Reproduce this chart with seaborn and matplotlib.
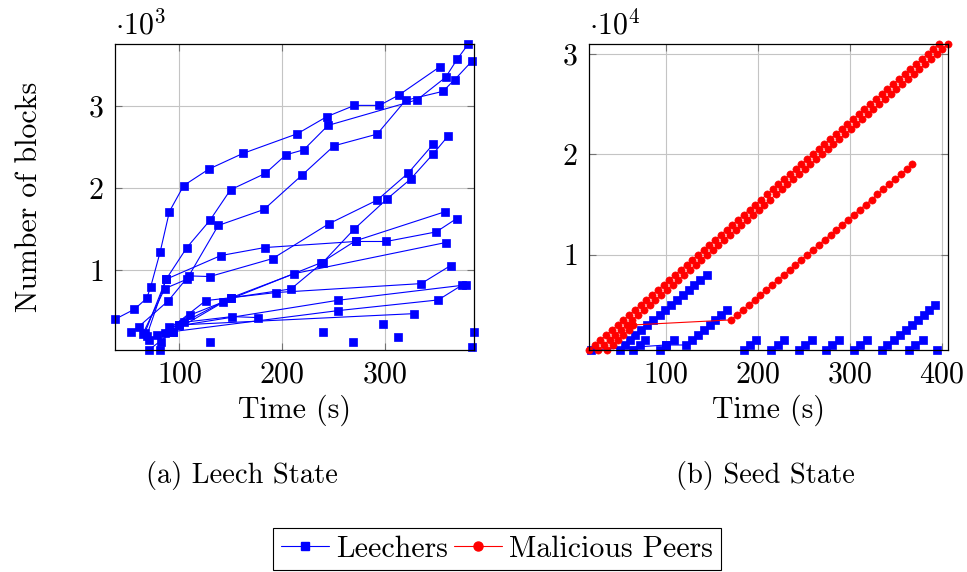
import pandas as pd
import matplotlib
matplotlib.use('Agg')
import matplotlib.pyplot as plt
from matplotlib.lines import Line2D
import seaborn as sns

# ---- (a) leech state: one list pair per leecher (time in s, blocks) ----
leech_1_time = [37.1, 56.0, 68.1, 72.0, 81.1, 90.2, 104.2, 128.7, 161.9, 215.0, 243.6, 270.7, 295.1, 314.0, 353.7]
leech_1_blocks = [398, 520, 654, 797, 1215, 1711, 2028, 2228, 2419, 2659, 2866, 3004, 3004, 3130, 3472]
leech_2_time = [68.1, 87.0, 107.2, 129.6, 149.8, 183.7, 203.9, 221.2, 244.9, 331.9, 359.6, 371.0, 381.8]
leech_2_blocks = [199, 886, 1272, 1602, 1976, 2175, 2402, 2463, 2760, 3073, 3346, 3569, 3752]
leech_3_time = [64.2, 85.7, 107.2, 137.8, 182.4, 219.5, 250.8, 292.8, 320.5, 356.9, 368.4, 385.7]
leech_3_blocks = [220, 772, 886, 1541, 1736, 2154, 2512, 2654, 3065, 3175, 3317, 3549]
leech_4_time = [53.1, 60.3, 89.0, 109.1, 129.6, 190.9, 245.6, 292.8, 323.1, 347.6]
leech_4_blocks = [240, 309, 622, 927, 919, 1138, 1561, 1850, 2179, 2533]
leech_5_time = [70.0, 99.3, 149.8, 208.8, 239.7, 270.7, 302.6, 325.4, 347.6, 362.2]
leech_5_blocks = [146, 329, 659, 768, 1089, 1500, 1866, 2106, 2415, 2634]
leech_6_time = [66.1, 87.0, 140.4, 183.1, 271.7, 301.6, 350.5, 370.4]
leech_6_blocks = [228, 886, 1175, 1272, 1346, 1346, 1463, 1626]
leech_7_time = [77.9, 109.8, 142.7, 238.4, 271.7, 358.6]
leech_7_blocks = [207, 447, 610, 1089, 1354, 1707]
leech_8_time = [85.7, 125.7, 194.1, 335.8, 364.5]
leech_8_blocks = [236, 626, 724, 833, 1053]
leech_9_time = [70.0, 93.5, 149.8, 212.1, 359.6]
leech_9_blocks = [24, 248, 659, 955, 1333]
leech_10_time = [90.2, 254.7, 379.2]
leech_10_blocks = [301, 630, 817]
leech_11_time = [93.5, 254.7, 352.4, 375.9]
leech_11_blocks = [248, 504, 634, 817]
leech_12_time = [99.3, 328.7]
leech_12_blocks = [329, 467]
leech_13_time = [104.2, 151.4, 176.5]
leech_13_blocks = [362, 431, 419]
# leechers seen only once
single_time = [129.6, 239.7, 269.7, 298.4, 313.4, 387.3, 385.7, 81.1, 82.4]
single_blocks = [126, 248, 126, 337, 187, 248, 65, 24, 126]

# ---- (b) seed state ----
seed_leech_a_time = [19.3, 100.4, 122.2, 128.4, 135.6, 141.8, 148.4, 153.8, 160.0, 166.5]
seed_leech_a_blocks = [500, 1000, 1000, 1500, 2000, 2500, 3000, 3500, 4000, 4500]
seed_leech_b_time = [50.9, 55.6, 61.1, 66.5, 72.7, 79.3, 86.5, 93.8, 99.3, 105.5, 112.0, 118.5,
                     125.1, 131.3, 137.5, 144.7]
seed_leech_b_blocks = [500, 1000, 1500, 2000, 2500, 3000, 3500, 4000, 4500, 5000, 5500, 6000,
                       6500, 7000, 7500, 8000]
seed_leech_c_time = [334.9, 341.1, 348.4, 354.9, 361.1, 367.6, 374.9, 381.1, 386.5, 392.7]
seed_leech_c_blocks = [500, 1000, 1500, 2000, 2500, 3000, 3500, 4000, 4500, 5000]
# short bursts of three samples
burst_times = [[64.7, 72.0, 77.5], [93.8, 100.4, 109.1], [184.7, 191.3, 198.5],
               [214.5, 221.8, 228.4], [244.7, 251.3, 259.3], [274.9, 281.1, 288.4],
               [304.7, 311.3, 318.5], [364.7, 371.3, 380.4], [394.9]]
burst_blocks = [500, 1000, 1500]

mal_1_time = [16.7, 22.9, 29.2, 35.4, 41.7, 47.9, 54.1, 60.4, 66.6, 72.9,
              79.1, 85.3, 91.6, 97.8, 104.1, 110.3, 116.5, 122.8, 129.0, 135.3,
              141.5, 147.7, 154.0, 160.2, 166.5, 172.7, 178.9, 185.2, 191.4, 197.7,
              203.9, 210.1, 216.4, 222.6, 228.9, 235.1, 241.3, 247.6, 253.8, 260.1,
              266.3, 272.5, 278.8, 285.0, 291.3, 297.5, 303.7, 310.0, 316.2, 322.5,
              328.7, 334.9, 341.2, 347.4, 353.7, 359.9, 366.1, 372.4, 378.6, 384.9,
              391.1, 397.3]
mal_2_time = [26.5, 32.7, 39.0, 45.2, 51.5, 57.7, 63.9, 70.2, 76.4, 82.7,
              88.9, 95.1, 101.4, 107.6, 113.9, 120.1, 126.3, 132.6, 138.8, 145.1,
              151.3, 157.5, 163.8, 170.0, 176.3, 182.5, 188.7, 195.0, 201.2, 207.5,
              213.7, 219.9, 226.2, 232.4, 238.7, 244.9, 251.1, 257.4, 263.6, 269.9,
              276.1, 282.3, 288.6, 294.8, 301.1, 307.3, 313.5, 319.8, 326.0, 332.3,
              338.5, 344.7, 351.0, 357.2, 363.5, 369.7, 375.9, 382.2, 388.4, 394.7,
              400.9, 407.1]
mal_3_time = [36.8, 42.5, 48.3, 54.2, 59.8, 64.7,
              171.3, 177.6, 184.0, 190.4, 196.7, 203.1, 209.4, 215.8, 222.2, 228.5,
              234.9, 241.2, 247.6, 254.0, 260.3, 266.7, 273.0, 279.4, 285.8, 292.1,
              298.5, 304.8, 311.2, 317.6, 323.9, 330.3, 336.6, 343.0, 349.4, 355.7,
              362.1, 368.4]
mal_blocks = [500, 1000, 1500, 2000, 2500, 3000, 3500, 4000, 4500, 5000,
              5500, 6000, 6500, 7000, 7500, 8000, 8500, 9000, 9500, 10000,
              10500, 11000, 11500, 12000, 12500, 13000, 13500, 14000, 14500, 15000,
              15500, 16000, 16500, 17000, 17500, 18000, 18500, 19000, 19500, 20000,
              20500, 21000, 21500, 22000, 22500, 23000, 23500, 24000, 24500, 25000,
              25500, 26000, 26500, 27000, 27500, 28000, 28500, 29000, 29500, 30000,
              30500, 31000]


def to_frame(series):
    rows = []
    for k, (times, blocks) in enumerate(series):
        for t, b in zip(times, blocks):
            rows.append((k, t, b))
    return pd.DataFrame(rows, columns=['peer', 'time', 'blocks'])


leech_df = to_frame([
    (leech_1_time, leech_1_blocks), (leech_2_time, leech_2_blocks), (leech_3_time, leech_3_blocks),
    (leech_4_time, leech_4_blocks), (leech_5_time, leech_5_blocks), (leech_6_time, leech_6_blocks),
    (leech_7_time, leech_7_blocks), (leech_8_time, leech_8_blocks), (leech_9_time, leech_9_blocks),
    (leech_10_time, leech_10_blocks), (leech_11_time, leech_11_blocks),
    (leech_12_time, leech_12_blocks), (leech_13_time, leech_13_blocks),
] + [([t], [b]) for t, b in zip(single_time, single_blocks)])

seed_df = to_frame([
    (seed_leech_a_time, seed_leech_a_blocks), (seed_leech_b_time, seed_leech_b_blocks),
    (seed_leech_c_time, seed_leech_c_blocks),
] + [(bt, burst_blocks[:len(bt)]) for bt in burst_times])

mal_df = to_frame([
    (mal_1_time, mal_blocks), (mal_2_time, mal_blocks), (mal_3_time, mal_blocks[:len(mal_3_time)]),
])

sns.set_theme(style='whitegrid')
plt.rcParams['font.family'] = ['cmr10', 'DejaVu Serif']
plt.rcParams['mathtext.fontset'] = 'cm'
plt.rcParams['axes.formatter.use_mathtext'] = True
plt.rcParams['text.color'] = 'black'
plt.rcParams['axes.labelcolor'] = 'black'

FS = 21.5
BLUE = (0, 0, 1)
RED = (1, 0, 0)

fig = plt.figure(figsize=(9.67, 5.72), dpi=100)
ax1 = fig.add_axes([0.1189, 0.3881, 0.3713, 0.535])
ax2 = fig.add_axes([0.6091, 0.3881, 0.3713, 0.535])

line_kw = dict(units='peer', estimator=None, sort=False, legend=False, linewidth=0.8, clip_on=False)
sns.lineplot(data=leech_df, x='time', y='blocks', color=BLUE, marker='s', markersize=5.4,
             markeredgecolor=BLUE, markeredgewidth=0.5, ax=ax1, **line_kw)
sns.lineplot(data=seed_df, x='time', y='blocks', color=BLUE, marker='s', markersize=5.2,
             markeredgecolor=BLUE, markeredgewidth=0.5, ax=ax2, **line_kw)
sns.lineplot(data=mal_df, x='time', y='blocks', color=RED, marker='o', markersize=5.2,
             markeredgecolor=RED, markeredgewidth=0.4, ax=ax2, **line_kw)

ax1.set_xlim(leech_df['time'].min(), leech_df['time'].max())
ax1.set_ylim(leech_df['blocks'].min(), leech_df['blocks'].max())
ax2.set_xlim(min(seed_df['time'].min(), mal_df['time'].min()), mal_df['time'].max())
ax2.set_ylim(500, 31000)

ax1.set_xticks([100, 200, 300])
ax1.set_yticks([1000, 2000, 3000])
ax1.set_yticklabels(['1', '2', '3'])
ax2.set_xticks([100, 200, 300, 400])
ax2.set_yticks([10000, 20000, 30000])
ax2.set_yticklabels(['1', '2', '3'])

for ax in (ax1, ax2):
    ax.grid(True, color='#c4c4c4', linewidth=0.8)
    ax.set_axisbelow(True)
    for sp in ax.spines.values():
        sp.set_color('black')
        sp.set_linewidth(0.9)
    ax.tick_params(direction='in', length=5, width=0.8, color='0.45', labelcolor='black',
                   bottom=True, left=True, top=True, right=True, labelsize=FS, pad=8)
    ax.set_xlabel('Time (s)', fontsize=FS)
    ax.xaxis.set_label_coords(0.5, -0.145)
    ax.set_ylabel('')

ax1.set_ylabel('Number of blocks', fontsize=FS)
ax1.yaxis.set_label_coords(-0.2, 0.5)

ax1.text(0.0, 1.012, r'$\cdot 10^{3}$', transform=ax1.transAxes, ha='left', va='bottom', fontsize=FS)
ax2.text(0.0, 1.012, r'$\cdot 10^{4}$', transform=ax2.transAxes, ha='left', va='bottom', fontsize=FS)

fig.text(242 / 967, 1 - 476 / 572, '(a) Leech State', ha='center', va='center', fontsize=20.5)
fig.text(765 / 967, 1 - 476 / 572, '(b) Seed State', ha='center', va='center', fontsize=20.5)

handles = [Line2D([], [], color=BLUE, marker='s', markersize=6, markeredgecolor=BLUE, linewidth=0.8),
           Line2D([], [], color=RED, marker='o', markersize=6.5, markeredgecolor=RED, linewidth=0.8)]
leg = fig.legend(handles, ['Leechers', 'Malicious Peers'], loc='center',
                 bbox_to_anchor=(497 / 967, 1 - 549 / 572), ncol=2, frameon=True, fancybox=False,
                 edgecolor='black', framealpha=1, fontsize=FS, handlelength=1.6,
                 handletextpad=0.25, columnspacing=0.2, borderpad=0.25)
leg.get_frame().set_linewidth(0.8)

fig.savefig('out.png', dpi=100)
